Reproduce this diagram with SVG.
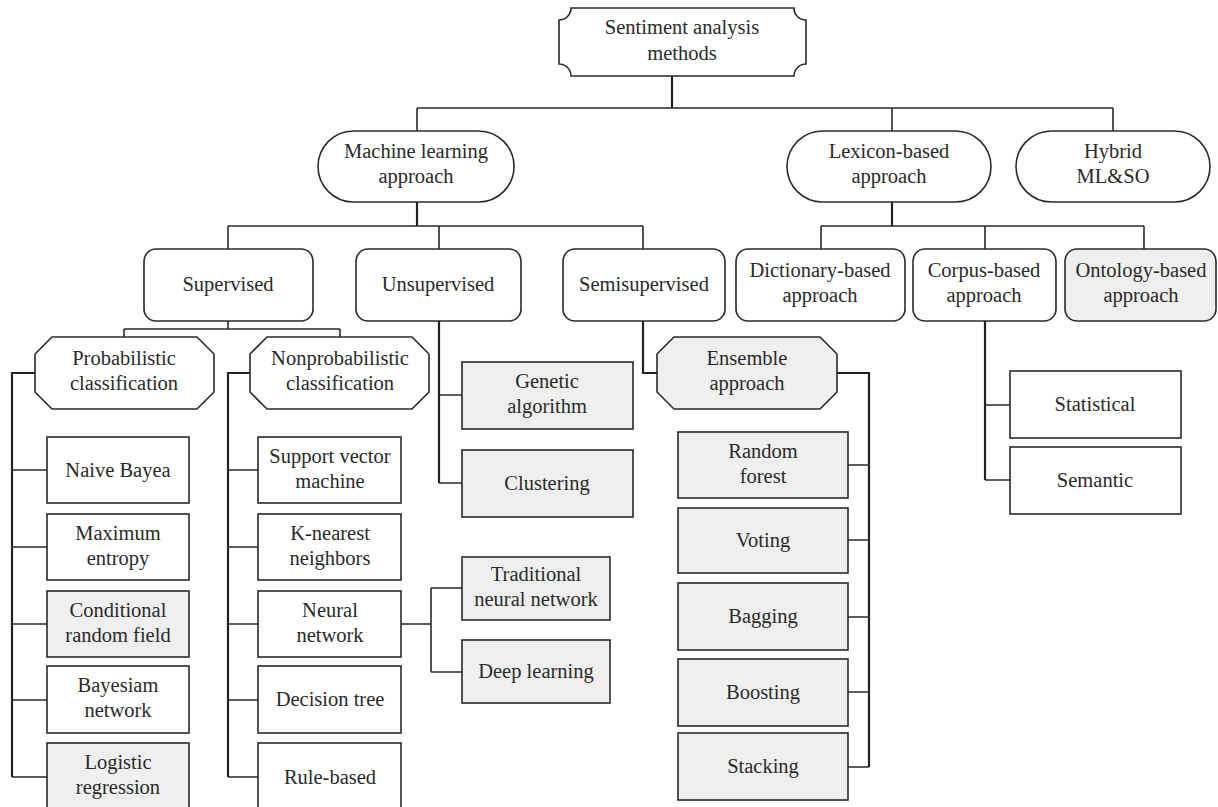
<svg xmlns="http://www.w3.org/2000/svg" width="1218" height="807" viewBox="0 0 1218 807">
<style>
.n{fill:#ffffff;stroke:#2a2a2a;stroke-width:1.6}
.g{fill:#eeefee;stroke:#2a2a2a;stroke-width:1.6}
.c{fill:none;stroke:#2a2a2a;stroke-width:1.6}
.k{fill:none;stroke:#222222;stroke-width:2.2}
.t{font-family:"Liberation Serif","Times New Roman",serif;font-size:20.5px;fill:#2a2a2a;text-anchor:middle}
</style>
<rect width="1218" height="807" fill="#ffffff"/>
<g id="connectors">
<path class="k" d="M672,76V108"/>
<path class="c" d="M417,108H1113M417,108V131M892,108V131M1113,108V131"/>
<path class="k" d="M417,202V226M892,202V226"/>
<path class="c" d="M228,226H643M228,226V249M439,226V249M643,226V249"/>
<path class="c" d="M821,226H1144M821,226V249M985,226V249M1144,226V249"/>
<path class="c" d="M228,321V329M124,329H340M124,329V337M340,329V337"/>
<path class="k" d="M35,373H12V777M250,373H228V777M837,373H869V767M985,321V480M439,321V483M643,321V373H657"/>
<path class="c" d="M12,470H47M12,547H47M12,624H47M12,700H47M12,777H47"/>
<path class="c" d="M228,470H258M228,547H258M228,624H258M228,700H258M228,777H258"/>
<path class="c" d="M401,624H431M431,588V672M431,588H462M431,672H462"/>
<path class="c" d="M439,395H462M439,483H462"/>
<path class="c" d="M848,465H869M848,540H869M848,617H869M848,692H869M848,767H869"/>
<path class="c" d="M985,405H1010M985,480H1010"/>
</g>
<g id="root">
<path class="n" d="M571,8H794A12,12 0 0 0 806,20V64A12,12 0 0 0 794,76H571A12,12 0 0 0 559,64V20A12,12 0 0 0 571,8Z"/>
<text class="t" x="682" y="34">Sentiment analysis</text>
<text class="t" x="682" y="60">methods</text>
</g>
<g id="ml">
<rect class="n" x="318" y="131" width="196" height="71" rx="35.5"/>
<text class="t" x="416" y="158">Machine learning</text>
<text class="t" x="416" y="183">approach</text>
</g>
<g id="lexicon">
<rect class="n" x="787" y="131" width="204" height="71" rx="35.5"/>
<text class="t" x="889" y="158">Lexicon-based</text>
<text class="t" x="889" y="183">approach</text>
</g>
<g id="hybrid">
<rect class="n" x="1016" y="131" width="194" height="71" rx="35.5"/>
<text class="t" x="1113" y="158">Hybrid</text>
<text class="t" x="1113" y="183">ML&amp;SO</text>
</g>
<g id="supervised">
<rect class="n" x="144" y="249" width="169" height="72" rx="12"/>
<text class="t" x="228" y="291">Supervised</text>
</g>
<g id="unsupervised">
<rect class="n" x="356" y="249" width="165" height="72" rx="12"/>
<text class="t" x="438" y="291">Unsupervised</text>
</g>
<g id="semisupervised">
<rect class="n" x="563" y="249" width="162" height="72" rx="12"/>
<text class="t" x="644" y="291">Semisupervised</text>
</g>
<g id="dictionary">
<rect class="n" x="736" y="249" width="169" height="72" rx="12"/>
<text class="t" x="820" y="277">Dictionary-based</text>
<text class="t" x="820" y="302">approach</text>
</g>
<g id="corpus">
<rect class="n" x="913" y="249" width="143" height="72" rx="12"/>
<text class="t" x="984" y="277">Corpus-based</text>
<text class="t" x="984" y="302">approach</text>
</g>
<g id="ontology">
<rect class="g" x="1065" y="249" width="151" height="72" rx="12"/>
<text class="t" x="1141" y="277">Ontology-based</text>
<text class="t" x="1141" y="302">approach</text>
</g>
<g id="probabilistic">
<path class="n" d="M52,337H197L214,354V392L197,409H52L35,392V354Z"/>
<text class="t" x="124" y="365">Probabilistic</text>
<text class="t" x="124" y="390">classification</text>
</g>
<g id="nonprobabilistic">
<path class="n" d="M267,337H412L429,354V392L412,409H267L250,392V354Z"/>
<text class="t" x="340" y="365">Nonprobabilistic</text>
<text class="t" x="340" y="390">classification</text>
</g>
<g id="ensemble">
<path class="g" d="M674,337H820L837,354V392L820,409H674L657,392V354Z"/>
<text class="t" x="747" y="365">Ensemble</text>
<text class="t" x="747" y="390">approach</text>
</g>
<g id="naive">
<rect class="n" x="47" y="437" width="142" height="66"/>
<text class="t" x="118" y="477">Naive Bayea</text>
</g>
<g id="maxent">
<rect class="n" x="47" y="514" width="142" height="66"/>
<text class="t" x="118" y="540">Maximum</text>
<text class="t" x="118" y="565">entropy</text>
</g>
<g id="crf">
<rect class="g" x="47" y="591" width="142" height="66"/>
<text class="t" x="118" y="617">Conditional</text>
<text class="t" x="118" y="642">random field</text>
</g>
<g id="bayesnet">
<rect class="n" x="47" y="666" width="142" height="67"/>
<text class="t" x="118" y="692">Bayesiam</text>
<text class="t" x="118" y="717">network</text>
</g>
<g id="logistic">
<rect class="g" x="47" y="743" width="142" height="68"/>
<text class="t" x="118" y="769">Logistic</text>
<text class="t" x="118" y="794">regression</text>
</g>
<g id="svm">
<rect class="n" x="258" y="437" width="143" height="66"/>
<text class="t" x="330" y="463">Support vector</text>
<text class="t" x="330" y="488">machine</text>
</g>
<g id="knn">
<rect class="n" x="258" y="514" width="143" height="66"/>
<text class="t" x="330" y="540">K-nearest</text>
<text class="t" x="330" y="565">neighbors</text>
</g>
<g id="neural">
<rect class="n" x="258" y="591" width="143" height="66"/>
<text class="t" x="330" y="617">Neural</text>
<text class="t" x="330" y="642">network</text>
</g>
<g id="dtree">
<rect class="n" x="258" y="666" width="143" height="67"/>
<text class="t" x="330" y="706">Decision tree</text>
</g>
<g id="rule">
<rect class="n" x="258" y="743" width="143" height="68"/>
<text class="t" x="330" y="784">Rule-based</text>
</g>
<g id="genetic">
<rect class="g" x="462" y="362" width="171" height="67"/>
<text class="t" x="547" y="388">Genetic</text>
<text class="t" x="547" y="413">algorithm</text>
</g>
<g id="clustering">
<rect class="g" x="462" y="450" width="171" height="67"/>
<text class="t" x="547" y="490">Clustering</text>
</g>
<g id="tnn">
<rect class="g" x="462" y="557" width="148" height="63"/>
<text class="t" x="536" y="581">Traditional</text>
<text class="t" x="536" y="606">neural network</text>
</g>
<g id="deep">
<rect class="g" x="462" y="640" width="148" height="63"/>
<text class="t" x="536" y="678">Deep learning</text>
</g>
<g id="rf">
<rect class="g" x="678" y="432" width="170" height="66"/>
<text class="t" x="763" y="458">Random</text>
<text class="t" x="763" y="483">forest</text>
</g>
<g id="voting">
<rect class="g" x="678" y="508" width="170" height="65"/>
<text class="t" x="763" y="547">Voting</text>
</g>
<g id="bagging">
<rect class="g" x="678" y="583" width="170" height="67"/>
<text class="t" x="763" y="623">Bagging</text>
</g>
<g id="boosting">
<rect class="g" x="678" y="659" width="170" height="67"/>
<text class="t" x="763" y="699">Boosting</text>
</g>
<g id="stacking">
<rect class="g" x="678" y="733" width="170" height="67"/>
<text class="t" x="763" y="773">Stacking</text>
</g>
<g id="statistical">
<rect class="n" x="1010" y="371" width="171" height="67"/>
<text class="t" x="1095" y="411">Statistical</text>
</g>
<g id="semantic">
<rect class="n" x="1010" y="447" width="171" height="67"/>
<text class="t" x="1095" y="487">Semantic</text>
</g>
</svg>
